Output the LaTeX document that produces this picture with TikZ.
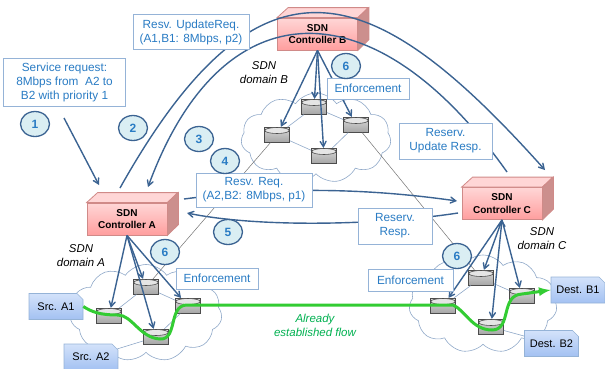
\documentclass[tikz,border=0pt]{standalone}
\usepackage{fontspec}
\setmainfont{Liberation Sans}
\usetikzlibrary{arrows,shapes.geometric,shapes.symbols,shapes.misc}

\definecolor{arcblue}{HTML}{3B6392}
\definecolor{txtblue}{HTML}{2A7CC4}
\definecolor{boxline}{HTML}{95B3D7}
\definecolor{cloudline}{HTML}{8FA8C8}
\definecolor{flowgreen}{HTML}{33CC33}
\definecolor{labgreen}{HTML}{00B050}
\definecolor{ctrlline}{HTML}{D08A88}
\definecolor{stepfill}{HTML}{DAEEF3}
\definecolor{endtop}{HTML}{D3E2FA}
\definecolor{endbot}{HTML}{A3C1F2}
\definecolor{ctrltop}{HTML}{FFD6D6}
\definecolor{ctrlbot}{HTML}{FF9E9E}
\definecolor{ctrlside}{HTML}{CC8F8D}

\begin{document}
\begin{tikzpicture}[>=angle 60,x=1pt,y=-1pt,
    domaincloud/.style={cloud,cloud puffs=11,cloud puff arc=110,aspect=1.6,draw=cloudline,line width=0.6pt,inner sep=0pt},
    swtch/.style={cylinder,shape border rotate=90,aspect=0.5,draw=black!70,line width=0.8pt,minimum width=25pt,minimum height=15pt,inner sep=0pt,
      top color=black!15,bottom color=black!35},
    swtop/.style={draw=black!70,line width=0.6pt,fill=black!10},
    ctrl/.style={draw=ctrlline,line width=0.8pt,top color=ctrltop,bottom color=ctrlbot,minimum width=80pt,minimum height=32pt,inner sep=0pt,
      align=center,font=\fontsize{10}{12.5}\selectfont\bfseries},
    msg/.style={draw=boxline,line width=0.8pt,fill=white,text=txtblue,inner sep=0pt,align=center,font=\fontsize{11.8}{14}\selectfont},
    stepno/.style={ellipse,draw=arcblue,line width=1.3pt,fill=stepfill,text=txtblue,minimum width=29pt,minimum height=25pt,inner sep=0pt,
      font=\fontsize{12}{14}\selectfont\bfseries},
    endpt/.style={chamfered rectangle,chamfered rectangle corners=north east,chamfered rectangle xsep=3pt,chamfered rectangle ysep=3pt,
      draw=boxline,line width=0.6pt,top color=endtop,bottom color=endbot,inner sep=0pt,minimum width=54pt,minimum height=26pt,
      font=\fontsize{11}{13}\selectfont},
    domlabel/.style={align=center,font=\fontsize{11.4}{14}\selectfont\itshape},
    arcline/.style={draw=arcblue,line width=1.4pt},
    ctl/.style={draw=arcblue,line width=1.4pt,->},
    inlink/.style={draw=cloudline,line width=0.6pt},
    wan/.style={draw=black!55,line width=0.5pt}]
  \useasboundingbox (0,0) rectangle (605,368);

  \node[domaincloud,minimum width=152pt,minimum height=97pt] (cla) at (146,313) {};
  \node[domaincloud,minimum width=150pt,minimum height=90pt] (clb) at (316,138) {};
  \node[domaincloud,minimum width=148pt,minimum height=98pt] (clc) at (483,304) {};

  \node[swtch] (sa1) at (109,316) {};
  \node[swtch] (sa2) at (146,287) {};
  \node[swtch] (sa3) at (156,337) {};
  \node[swtch] (sa4) at (188,306) {};

  \node[swtch] (sb1) at (277,135) {};
  \node[swtch] (sb2) at (314,107) {};
  \node[swtch] (sb3) at (356,125) {};
  \node[swtch] (sb4) at (324,156) {};

  \node[swtch] (sc1) at (443,306) {};
  \node[swtch] (sc2) at (481,278) {};
  \node[swtch] (sc3) at (491,327) {};
  \node[swtch] (sc4) at (522,296) {};

  \foreach \s in {sa1,sa2,sa3,sa4,sb1,sb2,sb3,sb4,sc1,sc2,sc3,sc4} {
    \draw[swtop] (\s.center) ++(0,-4.5) ellipse (12.2 and 3);
  }

  \node[endpt] (srca1) at (56,306.5) {Src. A1};
  \node[endpt] (srca2) at (91,357) {Src. A2};
  \node[endpt] (destb1) at (578,290) {Dest. B1};
  \node[endpt] (destb2) at (551.5,343.5) {Dest. B2};

  \path[inlink]
  (sa1) edge (sa2)
  (sa2) edge (sa4)
  (sa3) edge (sa4)
  (srca2) edge (sa3)
  (sb1) edge (sb2)
  (sb1) edge (sb4)
  (sb2) edge (sb3)
  (sb3) edge (sb4)
  (sc1) edge (sc2)
  (sc2) edge (sc4)
  (sc3) edge (destb2)
  ;

  \path[wan]
  (sa2) edge (sb1)
  (sb3) edge (sc2)
  ;

  \node[ctrl] (ca) at (127,219) {SDN\\Controller A};
  \node[ctrl] (cb) at (317.5,34) {SDN\\Controller B};
  \node[ctrl] (cc) at (502,203.5) {SDN\\Controller C};

  \foreach \c in {ca,cb,cc} {
    \draw[draw=ctrlline,line width=0.8pt,fill=ctrltop] (\c.north west) -- ++(11,-10) -- ++(80,0) -- (\c.north east) -- cycle;
    \draw[draw=ctrlline,line width=0.8pt,fill=ctrlside] (\c.north east) -- ++(11,-10) -- ++(0,32) -- (\c.south east) -- cycle;
  }

  \coordinate (reqfrom) at (64,118);
  \coordinate (reqto) at (99,185);
  \coordinate (updout) at (120,188);
  \coordinate (updin) at (545,170);
  \coordinate (respout) at (507,172);
  \coordinate (respin) at (148,187);
  \coordinate (resvout) at (184,199);
  \coordinate (resvin) at (457,201);
  \coordinate (ansout) at (458,213);
  \coordinate (ansin) at (187,213);

  \draw[arcline,->] (reqfrom) -- (reqto);
  \draw[arcline,->] (updout) .. controls (262,-65) and (375,-20) .. (updin);
  \draw[arcline,->] (respout) .. controls (375,-15) and (222,-15) .. (respin);
  \draw[arcline,->] (resvout) .. controls (290,185) and (380,190) .. (resvin);
  \draw[arcline,->] (ansout) .. controls (380,225) and (260,228) .. (ansin);

  \path[ctl]
  (ca.south) edge (sa1)
  (ca.south) edge (sa2)
  (ca.south) edge (sa3)
  (ca.south) edge (sa4)
  (cb.south) edge (sb1)
  (cb.south) edge (sb2)
  (cb.south) edge (sb3)
  (cb.south) edge (sb4)
  (cc.south) edge (sc1)
  (cc.south) edge (sc2)
  (cc.south) edge (sc3)
  (cc.south) edge (sc4)
  ;

  \draw[flowgreen,line width=3pt,-latex] (srca1.east) .. controls (92,312) and (100,315) .. (118,315)
    .. controls (132,315) and (140,338) .. (160,339) .. controls (178,340) and (168,305) .. (187,305)
    -- (453,305) .. controls (465,310) and (472,330) .. (492,330) .. controls (512,330) and (500,295) .. (522,294)
    -- (destb1.west);

  \node[msg,minimum width=122pt,minimum height=48pt] (svc) at (64.5,82) {Service request:\\8Mbps from\ \ A2 to\\B2 with priority 1};
  \node[msg,minimum width=116pt,minimum height=35pt] (upd) at (191,32) {Resv. UpdateReq.\\(A1,B1: 8Mbps, p2)};
  \node[msg,minimum width=116pt,minimum height=34pt] (resv) at (254,190) {Resv. Req.\\(A2,B2: 8Mbps, p1)};
  \node[msg,minimum width=93pt,minimum height=36pt] (upr) at (445.5,141) {Reserv.\\Update Resp.};
  \node[msg,minimum width=74pt,minimum height=36pt] (rsp) at (395,226) {Reserv.\\Resp.};
  \node[msg,minimum width=82pt,minimum height=21pt] (enfb) at (368,88.5) {Enforcement};
  \node[msg,minimum width=82pt,minimum height=21pt] (enfa) at (217,278.5) {Enforcement};
  \node[msg,minimum width=85pt,minimum height=22pt] (enfc) at (410.5,280) {Enforcement};

  \node[stepno] (n1) at (35,124) {1};
  \node[stepno] (n2) at (133,128) {2};
  \node[stepno] (n3) at (199,139) {3};
  \node[stepno] (n4) at (225,161) {4};
  \node[stepno] (n5) at (228,232) {5};
  \node[stepno] (n6a) at (165,252) {6};
  \node[stepno] (n6b) at (346,66) {6};
  \node[stepno] (n6c) at (457,256) {6};

  \node[domlabel] (doma) at (81,256) {SDN\\domain A};
  \node[domlabel] (domb) at (264,73) {SDN\\domain B};
  \node[domlabel] (domc) at (542,239) {SDN\\domain C};

  \node[text=labgreen,align=center,font=\fontsize{11.5}{14}\selectfont\itshape] (flowlab) at (315,325) {Already\\established flow};
\end{tikzpicture}
\end{document}
